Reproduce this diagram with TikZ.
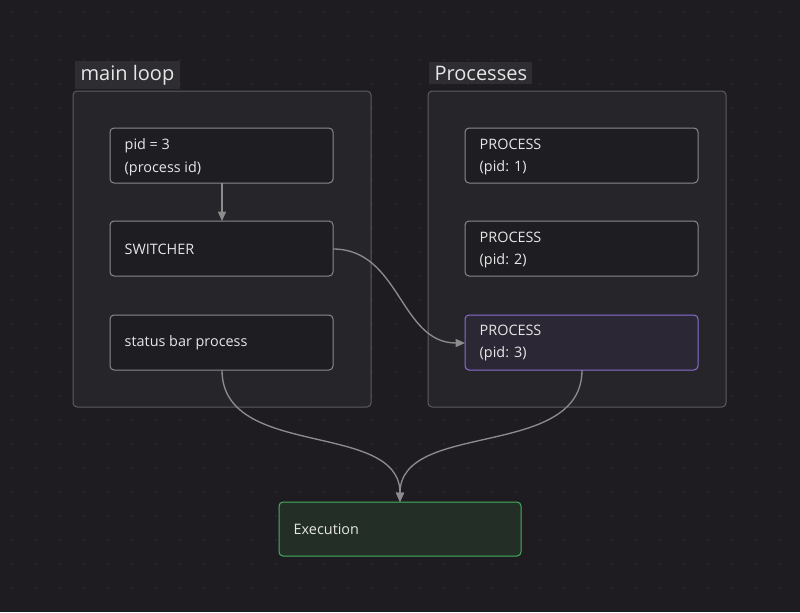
\documentclass[tikz,border=0pt]{standalone}
\usepackage{fontspec}
\setmainfont{Open Sans}
\usetikzlibrary{arrows.meta}
\definecolor{bg}{HTML}{1E1C20}
\definecolor{grp}{HTML}{262529}
\definecolor{grpb}{HTML}{5C5B60}
\definecolor{glb}{HTML}{2E2D31}
\definecolor{nod}{HTML}{1E1D21}
\definecolor{nodb}{HTML}{8A898E}
\definecolor{txt}{HTML}{E6E6E6}
\definecolor{edge}{HTML}{8C8C8C}
\definecolor{dotc}{HTML}{34323A}
\definecolor{purb}{HTML}{8B6FD0}
\definecolor{purf}{HTML}{2B2735}
\definecolor{grnb}{HTML}{45B060}
\definecolor{grnf}{HTML}{222E26}
\begin{document}
\begin{tikzpicture}[x=0.75pt,y=-0.75pt,
 grp/.style={draw=grpb,fill=grp,rounded corners=3pt,line width=0.75pt},
 glabel/.style={fill=glb,text=txt,font=\fontsize{15}{18}\selectfont,inner xsep=4pt,inner ysep=3pt,anchor=base west},
 box/.style={draw=nodb,fill=nod,rounded corners=3pt,line width=0.75pt},
 lbl/.style={text=txt,font=\fontsize{10.8}{17}\selectfont,align=left,anchor=west},
 conn/.style={draw=edge,line width=1pt,-{Triangle[length=7pt,width=6pt]}}]
\useasboundingbox (0,0) rectangle (800,612);
\fill[bg] (0,0) rectangle (800,612);
\foreach \i in {0,...,32}{\foreach \j in {0,...,24}{\fill[dotc] (12+24*\i,12+24*\j) circle (0.6pt);}}
\draw[grp] (73,91) rectangle (371,407);
\node[glabel] (l1) at (75,80) {main loop};
\draw[grp] (428,91) rectangle (726,407);
\node[glabel] (l2) at (429,80) {Processes};
% left nodes
\draw[box] (110,128) rectangle (333,183);
\node[lbl] (ta) at (120,157) {pid = 3\\(process id)};
\draw[box] (110,221) rectangle (333,276);
\node[lbl] (tb) at (120,249) {SWITCHER};
\draw[box] (110,315) rectangle (333,370);
\node[lbl] (tc) at (120,343) {status bar process};
% right nodes
\draw[box] (465,128) rectangle (698,183);
\node[lbl] (td) at (475,157) {PROCESS\\(pid: 1)};
\draw[box] (465,221) rectangle (698,276);
\node[lbl] (te) at (475,250) {PROCESS\\(pid: 2)};
\draw[box,draw=purb,fill=purf] (465,315) rectangle (698,370);
\node[lbl] (tf) at (475,343) {PROCESS\\(pid: 3)};
\draw[box,draw=grnb,fill=grnf] (279,502) rectangle (521,556);
\node[lbl] (tg) at (289,529) {Execution};
\coordinate (p1) at (222,183); \coordinate (p2) at (222,221);
\coordinate (s1) at (333,249); \coordinate (s2) at (465,343);
\coordinate (b1) at (222,370); \coordinate (b2) at (582,370); \coordinate (e) at (400,502);
\draw[conn] (p1) -- (p2);
\draw[conn] (s1) .. controls (400,249) and (400,343) .. (s2);
\draw[conn] (b1) .. controls (222,460) and (400,420) .. (e);
\draw[conn] (b2) .. controls (582,460) and (400,420) .. (e);
\end{tikzpicture}
\end{document}
